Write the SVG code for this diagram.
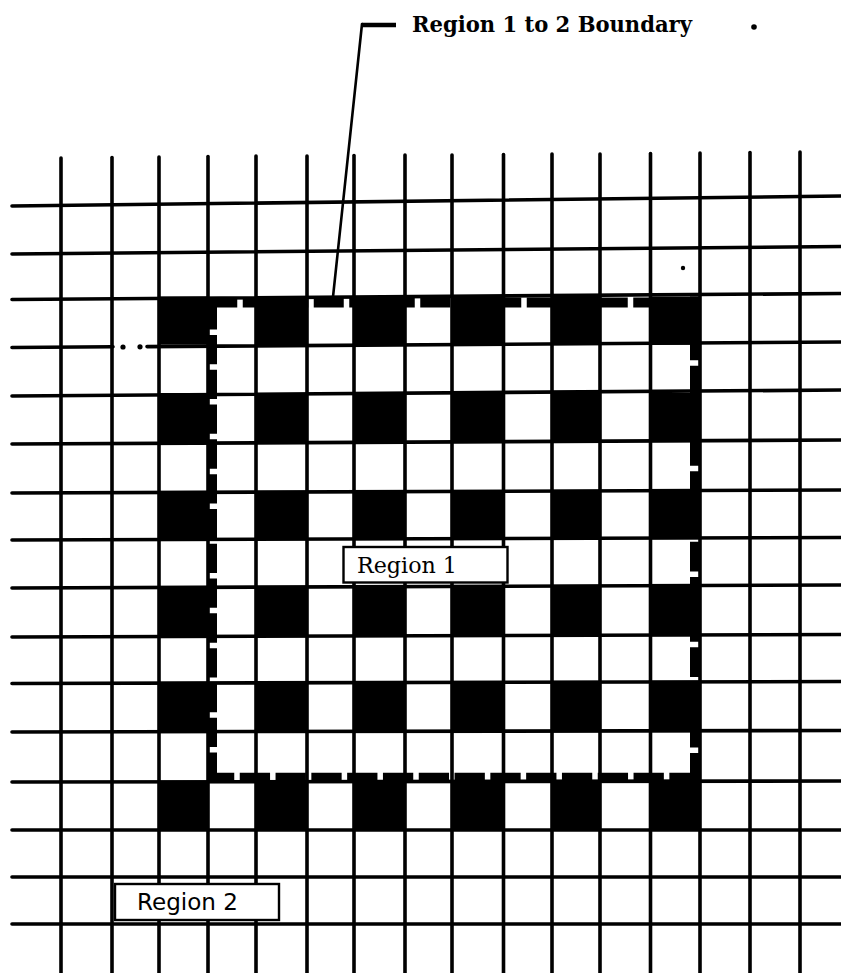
<svg xmlns="http://www.w3.org/2000/svg" width="841" height="973" viewBox="0 0 841 973">
<style>
.g line{stroke:#000;stroke-width:3.6;stroke-linecap:round}
.cell{fill:#000}
.bd{fill:none;stroke:#000;stroke-linecap:butt}
.box{fill:#fff;stroke:#000;stroke-width:2.4}
.lbl{font-family:"DejaVu Serif","Liberation Serif",serif;font-size:23px;fill:#000}
.lbl2{font-family:"DejaVu Sans","Liberation Sans",sans-serif;font-size:23px;fill:#000}
.title{font-family:"DejaVu Serif","Liberation Serif",serif;font-weight:bold;font-size:22px;fill:#000}
</style>
<rect width="841" height="973" fill="#fff"/>
<g id="cells">
<rect class="cell" x="159" y="296.5" width="49" height="48.2"/><rect class="cell" x="256" y="296.5" width="51" height="48.2"/><rect class="cell" x="354" y="296.5" width="51" height="48.2"/><rect class="cell" x="452" y="296.5" width="51.5" height="48.2"/><rect class="cell" x="552" y="296.5" width="48" height="48.2"/><rect class="cell" x="650.5" y="296.5" width="49.5" height="48.2"/>
<rect class="cell" x="159" y="393" width="49" height="49"/><rect class="cell" x="256" y="393" width="51" height="49"/><rect class="cell" x="354" y="393" width="51" height="49"/><rect class="cell" x="452" y="393" width="51.5" height="49"/><rect class="cell" x="552" y="393" width="48" height="49"/><rect class="cell" x="650.5" y="393" width="49.5" height="49"/>
<rect class="cell" x="159" y="491.5" width="49" height="47.2"/><rect class="cell" x="256" y="491.5" width="51" height="47.2"/><rect class="cell" x="354" y="491.5" width="51" height="47.2"/><rect class="cell" x="452" y="491.5" width="51.5" height="47.2"/><rect class="cell" x="552" y="491.5" width="48" height="47.2"/><rect class="cell" x="650.5" y="491.5" width="49.5" height="47.2"/>
<rect class="cell" x="159" y="586.5" width="49" height="49.2"/><rect class="cell" x="256" y="586.5" width="51" height="49.2"/><rect class="cell" x="354" y="586.5" width="51" height="49.2"/><rect class="cell" x="452" y="586.5" width="51.5" height="49.2"/><rect class="cell" x="552" y="586.5" width="48" height="49.2"/><rect class="cell" x="650.5" y="586.5" width="49.5" height="49.2"/>
<rect class="cell" x="159" y="682.5" width="49" height="48.7"/><rect class="cell" x="256" y="682.5" width="51" height="48.7"/><rect class="cell" x="354" y="682.5" width="51" height="48.7"/><rect class="cell" x="452" y="682.5" width="51.5" height="48.7"/><rect class="cell" x="552" y="682.5" width="48" height="48.7"/><rect class="cell" x="650.5" y="682.5" width="49.5" height="48.7"/>
<rect class="cell" x="159" y="781.5" width="49" height="48.5"/><rect class="cell" x="256" y="781.5" width="51" height="48.5"/><rect class="cell" x="354" y="781.5" width="51" height="48.5"/><rect class="cell" x="452" y="781.5" width="51.5" height="48.5"/><rect class="cell" x="552" y="781.5" width="48" height="48.5"/><rect class="cell" x="650.5" y="781.5" width="49.5" height="48.5"/>
</g>
<g id="grid" class="g">
<line x1="61" y1="158" x2="61" y2="975"/><line x1="112" y1="157.5" x2="112" y2="975"/><line x1="159" y1="157" x2="159" y2="975"/><line x1="208" y1="156.5" x2="208" y2="975"/><line x1="256" y1="156" x2="256" y2="975"/><line x1="307" y1="156" x2="307" y2="975"/><line x1="354" y1="155.5" x2="354" y2="975"/><line x1="405" y1="155" x2="405" y2="975"/><line x1="452" y1="155" x2="452" y2="975"/><line x1="503.5" y1="154.5" x2="503.5" y2="975"/><line x1="552" y1="154" x2="552" y2="975"/><line x1="600" y1="154" x2="600" y2="975"/><line x1="650.5" y1="153.5" x2="650.5" y2="975"/><line x1="700" y1="153" x2="700" y2="975"/><line x1="750" y1="152.5" x2="750" y2="975"/><line x1="800" y1="152" x2="800" y2="975"/>
<line x1="12" y1="206" x2="843" y2="196"/>
<line x1="12" y1="254" x2="843" y2="246.5"/>
<line x1="12" y1="299.5" x2="843" y2="293.5"/>
<line x1="12" y1="347.5" x2="113" y2="346.8"/><line x1="147" y1="346.6" x2="843" y2="342"/>
<line x1="12" y1="396" x2="843" y2="390"/>
<line x1="12" y1="444" x2="843" y2="440"/>
<line x1="12" y1="493" x2="843" y2="490"/>
<line x1="12" y1="540" x2="843" y2="537.5"/>
<line x1="12" y1="588" x2="843" y2="585"/>
<line x1="12" y1="637" x2="843" y2="634.5"/>
<line x1="12" y1="683.5" x2="843" y2="681.5"/>
<line x1="12" y1="732" x2="843" y2="730.5"/>
<line x1="12" y1="782" x2="843" y2="781"/>
<line x1="12" y1="830" x2="843" y2="830"/>
<line x1="12" y1="877" x2="843" y2="877"/>
<line x1="12" y1="924" x2="843" y2="924"/>
<circle cx="123" cy="347" r="2.6" fill="#000"/><circle cx="140" cy="346.8" r="2.6" fill="#000"/>
</g>
<g id="boundary">
<path class="bd" d="M208 302.5 H700" stroke-width="10" stroke-dasharray="30 5.5" stroke-dashoffset="0.75"/>
<path class="bd" d="M208 777 H700" stroke-width="8.5" stroke-dasharray="30.3 5.5" stroke-dashoffset="4.05"/>
<path class="bd" d="M212.5 296.5 V781.5" stroke-width="9" stroke-dasharray="29.3 5.5" stroke-dashoffset="31.15"/>
<path class="bd" d="M694.5 296.5 V781.5" stroke-width="9" stroke-dasharray="29.7 5.5" stroke-dashoffset="1.15"/>
</g>
<g id="region1">
<rect class="box" x="343.5" y="547" width="164" height="35.5"/>
<text class="lbl" x="357" y="573" textLength="100" lengthAdjust="spacingAndGlyphs">Region 1</text>
</g>
<g id="region2">
<rect class="box" x="115" y="884" width="164" height="36"/>
<text class="lbl2" x="137" y="910" textLength="101" lengthAdjust="spacingAndGlyphs">Region 2</text>
</g>
<g id="connectors">
<line x1="362" y1="25" x2="396" y2="25" stroke="#000" stroke-width="4.5"/>
<line x1="362" y1="24" x2="333" y2="297" stroke="#000" stroke-width="2.6" stroke-linecap="round"/>
</g>
<g id="boundary-label">
<text class="title" x="412" y="32" textLength="280" lengthAdjust="spacingAndGlyphs">Region 1 to 2 Boundary</text>
</g>
<g id="marks" fill="#000">
<circle cx="754" cy="27" r="2.8"/>
<circle cx="683" cy="268" r="2.2"/>
</g>
</svg>
